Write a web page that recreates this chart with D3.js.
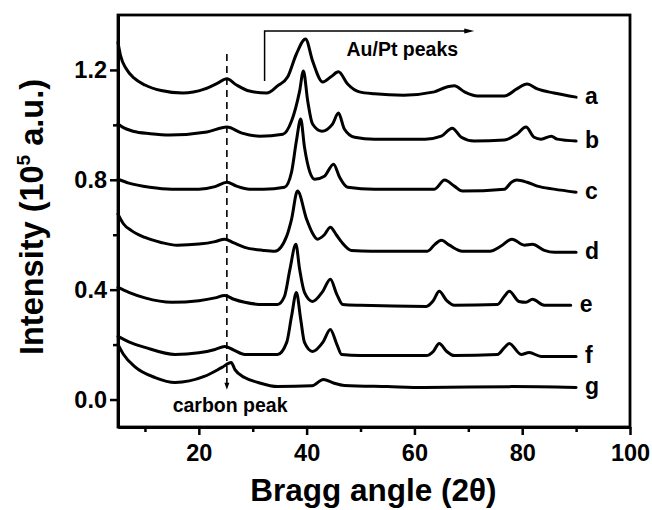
<!DOCTYPE html>
<html><head><meta charset="utf-8">
<script src="https://cdn.jsdelivr.net/npm/d3@7/dist/d3.min.js"></script>
<style>
body{margin:0;background:#fff}
text{font-family:"Liberation Sans",Arial,Helvetica,sans-serif;font-weight:bold;fill:#000}
</style>
</head><body>
<svg id="chart" width="652" height="510"></svg>
<script>
// ---- data (2θ in degrees, intensity in 10^5 a.u.) ----
const seriesNames = ["a","b","c","d","e","f","g"];
const seriesA = [[5,1.30],[5.5,1.25],[6.5,1.205],[8,1.17],[10,1.145],[13,1.125],[17,1.116],[21,1.13],[23.5,1.152],[25.2,1.168],[27,1.145],[29.4,1.123],[32.6,1.116],[34.6,1.142],[36.5,1.175],[38.1,1.258],[39.8,1.313],[41.1,1.233],[43,1.156],[44.5,1.175],[45.9,1.193],[47.6,1.149],[49.8,1.12],[52.6,1.113],[58,1.108],[63.7,1.12],[65.6,1.135],[67.4,1.142],[69.3,1.12],[71.7,1.105],[76.7,1.105],[79,1.131],[80.9,1.149],[82.8,1.131],[85.9,1.116],[90,1.101]];
const seriesB = [[5,1.003],[6,0.99],[7.8,0.977],[11,0.968],[14.6,0.963],[21.5,0.974],[25.2,0.992],[28,0.97],[31.3,0.959],[35.6,0.966],[37.2,1.014],[38.7,1.123],[39.4,1.196],[40.2,1.087],[41.1,1.003],[42.8,0.977],[44.8,1.003],[45.9,1.043],[47,0.985],[48.9,0.955],[52.6,0.948],[62,0.948],[65,0.959],[67,0.988],[68.7,0.955],[71.1,0.941],[76.7,0.945],[79,0.966],[80.7,0.992],[82.2,0.955],[83.5,0.948],[85.4,0.959],[86.5,0.948],[90,0.941]];
const seriesC = [[5,0.802],[7,0.788],[10.9,0.773],[15,0.766],[20,0.766],[23,0.775],[25.2,0.791],[27,0.777],[29.4,0.766],[32,0.766],[35.9,0.773],[37.2,0.828],[38.1,0.941],[38.9,1.021],[39.6,0.919],[40.6,0.828],[41.5,0.802],[43.3,0.813],[45,0.857],[46.1,0.81],[47.6,0.773],[52.6,0.766],[63.7,0.766],[65.6,0.799],[67.4,0.777],[68.9,0.759],[76.7,0.766],[78,0.791],[79,0.799],[80.9,0.791],[82.8,0.777],[85.9,0.766],[90,0.755]];
const seriesD = [[5,0.675],[6,0.64],[7.5,0.615],[10,0.59],[13,0.572],[16,0.562],[20,0.566],[23,0.575],[24.8,0.584],[26.5,0.57],[28.5,0.554],[32,0.543],[34.1,0.54],[36.3,0.595],[37.2,0.656],[38.3,0.759],[40,0.656],[41,0.609],[42,0.584],[43.3,0.6],[44.4,0.627],[45.5,0.6],[46.5,0.573],[48.3,0.543],[52,0.54],[62.4,0.54],[63.8,0.565],[65,0.58],[66.5,0.562],[68.9,0.54],[74,0.54],[76,0.558],[78.1,0.584],[80.4,0.562],[81.9,0.565],[84.1,0.543],[86,0.536],[90,0.536]];
const seriesE = [[5,0.408],[7,0.39],[10,0.37],[15,0.354],[20,0.36],[23,0.37],[24.8,0.379],[26.5,0.365],[28.5,0.354],[32,0.346],[34.6,0.346],[35.9,0.376],[36.9,0.474],[38,0.565],[38.7,0.474],[39.6,0.39],[41.1,0.357],[43,0.394],[44.4,0.438],[45.6,0.383],[46.7,0.346],[50,0.343],[62.2,0.339],[63.5,0.36],[64.6,0.394],[66,0.36],[67.4,0.343],[75.4,0.346],[76.7,0.376],[77.6,0.394],[79.4,0.357],[80.7,0.354],[81.9,0.365],[84.1,0.343],[89,0.343]];
const seriesF = [[5,0.23],[7,0.21],[10,0.19],[15.6,0.164],[20,0.17],[23,0.182],[24.8,0.193],[26.5,0.18],[28.5,0.164],[34.6,0.164],[36.3,0.208],[37.2,0.303],[38.1,0.39],[38.9,0.292],[39.6,0.208],[41.1,0.175],[43,0.208],[44.4,0.255],[45.6,0.201],[46.5,0.164],[50,0.16],[62.2,0.16],[63.5,0.175],[64.6,0.204],[66,0.175],[67.4,0.16],[75.4,0.164],[76.7,0.189],[77.6,0.204],[79.8,0.164],[81.3,0.171],[83.5,0.157],[90,0.157]];
const seriesG = [[5,0.201],[6,0.165],[8.1,0.12],[11.9,0.08],[15.6,0.062],[21,0.084],[24.3,0.117],[26,0.135],[26.7,0.109],[28.5,0.08],[31,0.062],[34.6,0.047],[41,0.05],[43.1,0.073],[45,0.06],[47,0.051],[55,0.047],[61.8,0.044],[78,0.047],[90,0.044]];
const allSeries = [seriesA, seriesB, seriesC, seriesD, seriesE, seriesF, seriesG];

const xDomain = [5, 100];
const yDomain = [-0.1, 1.4];
const xTickMajor = [20, 40, 60, 80, 100];
const xTickMinor = [10, 30, 50, 70, 90];
const xTickLabels = ["20", "40", "60", "80", "100"];
const yTickMajor = [0, 0.4, 0.8, 1.2];
const yTickMinor = [0.2, 0.6, 1.0];
const yTickLabels = ["0.0", "0.4", "0.8", "1.2"];
const xTitle = "Bragg angle (2θ)";

// annotations (data units)
const carbonPeakX = 25.2;
const carbonLine = [1.258, 0.036];
const carbonLabel = {text: "carbon peak", x: 25.8, y: -0.047};
const metalBracket = {x0: 32.2, x1: 71.1, yTop: 1.342, yBottom: 1.16};
const metalLabel = {text: "Au/Pt peaks", x: 47.4, y: 1.251};

// ---- layout ----
const W = 652, H = 510;
const margin = {top: 15, right: 22, bottom: 83, left: 118};
const iw = W - margin.left - margin.right;
const ih = H - margin.top - margin.bottom;

const svg = d3.select("#chart");
const g = svg.append("g").attr("transform", `translate(${margin.left},${margin.top})`);

const x = d3.scaleLinear().domain(xDomain).range([0, iw]);
const y = d3.scaleLinear().domain(yDomain).range([ih, 0]);

// frame
g.append("rect").attr("x", 0).attr("y", 0).attr("width", iw).attr("height", ih)
  .attr("fill", "none").attr("stroke", "#000").attr("stroke-width", 2.8);

// axes
const xMaj = d3.axisBottom(x).tickValues(xTickMajor).tickSize(8).tickSizeOuter(0).tickPadding(9)
  .tickFormat((d, i) => xTickLabels[i]);
const xMin = d3.axisBottom(x).tickValues(xTickMinor).tickSize(5).tickSizeOuter(0).tickFormat("");
const yMaj = d3.axisLeft(y).tickValues(yTickMajor).tickSize(8).tickSizeOuter(0).tickPadding(3)
  .tickFormat((d, i) => yTickLabels[i]);
const yMin = d3.axisLeft(y).tickValues(yTickMinor).tickSize(5).tickSizeOuter(0).tickFormat("");

function styleAxis(sel) {
  sel.select(".domain").attr("stroke-width", 2.8);
  sel.selectAll(".tick line").attr("stroke-width", 2.5);
  sel.selectAll(".tick text").style("font-size", "23.5px").style("font-family", '"Liberation Sans",Arial,sans-serif').style("font-weight", "bold").attr("fill", "#000");
}
g.append("g").attr("transform", `translate(0,${ih})`).call(xMin).call(styleAxis);
g.append("g").attr("transform", `translate(0,${ih})`).call(xMaj).call(styleAxis);
g.append("g").call(yMin).call(styleAxis);
g.append("g").call(yMaj).call(styleAxis);

// curves
const line = d3.line().x(d => x(d[0])).y(d => y(d[1])).curve(d3.curveMonotoneX);
g.selectAll("path.curve").data(allSeries).join("path")
  .attr("class", "curve").attr("d", line)
  .attr("fill", "none").attr("stroke", "#000").attr("stroke-width", 3)
  .attr("stroke-linejoin", "round").attr("stroke-linecap", "round");

// series labels
g.selectAll("text.slab").data(allSeries).join("text")
  .attr("class", "slab")
  .attr("x", d => x(d[d.length - 1][0]) + 9)
  .attr("y", d => y(d[d.length - 1][1]) + 7)
  .style("font-size", "23px")
  .text((d, i) => seriesNames[i]);

// carbon peak dashed line with arrow
const cx = x(carbonPeakX);
g.append("line").attr("x1", cx).attr("x2", cx)
  .attr("y1", y(carbonLine[0])).attr("y2", y(carbonLine[1]) - 5)
  .attr("stroke", "#000").attr("stroke-width", 1.6).attr("stroke-dasharray", "7,5");
const cyTip = y(carbonLine[1]);
g.append("path").attr("d", `M${cx - 2.5},${cyTip - 7}L${cx + 2.5},${cyTip - 7}L${cx},${cyTip}Z`).attr("fill", "#000");
g.append("text").attr("x", x(carbonLabel.x)).attr("y", y(carbonLabel.y))
  .attr("text-anchor", "middle").style("font-size", "19.5px").text(carbonLabel.text);

// Au/Pt bracket arrow
const bx0 = x(metalBracket.x0), bx1 = x(metalBracket.x1);
const byT = y(metalBracket.yTop), byB = y(metalBracket.yBottom);
g.append("path").attr("d", `M${bx0},${byB}L${bx0},${byT}L${bx1 - 8},${byT}`)
  .attr("fill", "none").attr("stroke", "#000").attr("stroke-width", 1.5);
g.append("path").attr("d", `M${bx1 - 10},${byT - 2.5}L${bx1},${byT}L${bx1 - 10},${byT + 2.5}Z`).attr("fill", "#000");
g.append("text").attr("x", x(metalLabel.x)).attr("y", y(metalLabel.y))
  .style("font-size", "19.5px").text(metalLabel.text);

// axis titles
svg.append("text").attr("x", margin.left + x(52.4)).attr("y", 501)
  .attr("text-anchor", "middle").style("font-size", "31.5px").text(xTitle);

const yt = svg.append("text").attr("transform", "translate(43,217) rotate(-90)")
  .attr("text-anchor", "middle").style("font-size", "32.5px");
yt.append("tspan").text("Intensity (10");
yt.append("tspan").attr("dy", -13).style("font-size", "19px").text("5");
yt.append("tspan").attr("dy", 13).text(" a.u.)");
</script>
</body></html>
